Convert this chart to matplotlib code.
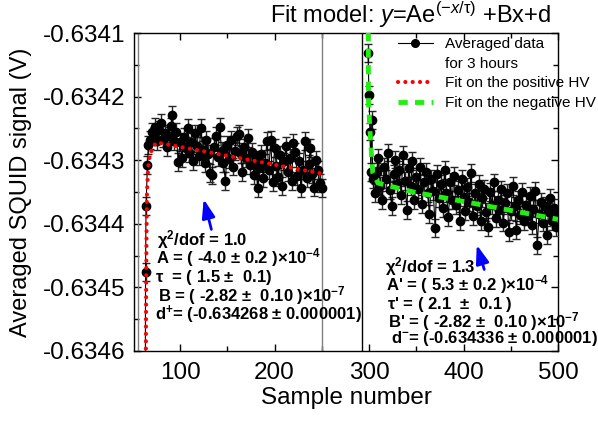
import numpy as np
import matplotlib
matplotlib.use('Agg')
import matplotlib.pyplot as plt
from matplotlib.ticker import MultipleLocator, FuncFormatter
from matplotlib.lines import Line2D

plt.rcParams['font.family'] = ['Liberation Sans', 'DejaVu Sans']
plt.rcParams['mathtext.fontset'] = 'custom'
plt.rcParams['mathtext.rm'] = 'Liberation Sans'
plt.rcParams['mathtext.it'] = 'Liberation Sans:italic'
plt.rcParams['mathtext.bf'] = 'Liberation Sans:bold'
plt.rcParams['mathtext.default'] = 'regular'

# averaged data, positive HV
x_pos = [63, 63.5, 64, 65.5, 66.5] + list(range(68, 251, 2))
y_pos = [-0.634800, -0.634476, -0.634372, -0.634308, -0.634276,
         -0.634268, -0.634255, -0.634262, -0.634248, -0.634270, -0.634252,
         -0.634241, -0.634266, -0.634258, -0.634279, -0.634262, -0.634247,
         -0.634229, -0.634270, -0.634255, -0.634303, -0.634272,
         -0.634296, -0.634263, -0.634281, -0.634250, -0.634289, -0.634272,
         -0.634301, -0.634258, -0.634277, -0.634293, -0.634249, -0.634284,
         -0.634305, -0.634268, -0.634290, -0.634320, -0.634324, -0.634279,
         -0.634262, -0.634295, -0.634248, -0.634286, -0.634305, -0.634333,
         -0.634276, -0.634298, -0.634268, -0.634310, -0.634285, -0.634262,
         -0.634259, -0.634291, -0.634318, -0.634280, -0.634296, -0.634265,
         -0.634308, -0.634287, -0.634323, -0.634299, -0.634344, -0.634312,
         -0.634290, -0.634328, -0.634304, -0.634270, -0.634316, -0.634268,
         -0.634335, -0.634281, -0.634309, -0.634326, -0.634292, -0.634340,
         -0.634302, -0.634278, -0.634318, -0.634296, -0.634333, -0.634273,
         -0.634287, -0.634325, -0.634302, -0.634344, -0.634315, -0.634270,
         -0.634328, -0.634306, -0.634281, -0.634322, -0.634343, -0.634299,
         -0.634316, -0.634336, -0.634344]

# averaged data, negative HV
x_neg = [299, 300, 301, 302, 303, 304] + list(range(306, 501, 2))
y_neg = [-0.634131, -0.634198, -0.634255, -0.634318, -0.634237, -0.634330,
         -0.634352, -0.634318, -0.634296, -0.634340, -0.634363, -0.634310,
         -0.634329, -0.634288, -0.634347, -0.634372, -0.634321, -0.634299,
         -0.634338, -0.634316, -0.634355, -0.634292, -0.634333, -0.634378,
         -0.634312, -0.634340, -0.634301, -0.634362, -0.634326, -0.634345,
         -0.634310, -0.634369, -0.634335, -0.634318, -0.634352, -0.634384,
         -0.634330, -0.634348, -0.634407, -0.634321, -0.634360, -0.634338,
         -0.634375, -0.634315, -0.634352, -0.634390, -0.634334, -0.634362,
         -0.634325, -0.634371, -0.634347, -0.634395, -0.634330, -0.634358,
         -0.634380, -0.634342, -0.634366, -0.634320, -0.634388, -0.634352,
         -0.634372, -0.634338, -0.634396, -0.634360, -0.634345, -0.634382,
         -0.634405, -0.634350, -0.634370, -0.634335, -0.634391, -0.634362,
         -0.634378, -0.634346, -0.634398, -0.634368, -0.634352, -0.634413,
         -0.634380, -0.634341, -0.634372, -0.634410, -0.634362, -0.634386,
         -0.634350, -0.634395, -0.634370, -0.634388, -0.634356, -0.634402,
         -0.634376, -0.634348, -0.634434, -0.634385, -0.634365, -0.634398,
         -0.634372, -0.634418, -0.634382, -0.634360, -0.634395, -0.634375,
         -0.634405, -0.634385]
y_err = 1.4e-5

# fit curves
fit_pos_x = [63.6, 64, 64.5, 65, 66, 67, 69, 72, 75, 250]
fit_pos_y = [-0.63470, -0.63455, -0.63442, -0.634350, -0.634320, -0.634300,
             -0.634288, -0.634278, -0.634272, -0.634321]
fit_neg_x = [299, 299.5, 301, 303, 304, 309.5, 347, 500]
fit_neg_y = [-0.63400, -0.634210, -0.634253, -0.634300, -0.634320,
             -0.634336, -0.634350, -0.634393]

fig = plt.figure(figsize=(5.98, 4.21), dpi=100)
ax = fig.add_axes([0.2241, 0.1663, 0.709, 0.7553])

ax.axvline(55.6, color='#808080', lw=1)
ax.axvline(250, color='#808080', lw=1)
ax.axvline(293, color='black', lw=1)

for xs, ys in [(x_pos, y_pos), (x_neg, y_neg)]:
    ax.errorbar(xs, ys, yerr=y_err, fmt='o-', color='black', ms=6, lw=0.8,
                ecolor='#262626', elinewidth=1, capsize=2.8, capthick=1, zorder=3)

ax.plot(fit_pos_x, fit_pos_y, color='red', lw=3, linestyle=(0, (0.01, 1.75)),
        dash_capstyle='round', zorder=5)
ax.plot(fit_neg_x, fit_neg_y, color='#22ee11', lw=3.5, linestyle=(0, (1.9, 1.5)),
        zorder=5)

ax.set_xlim(51.3, 500)
ax.set_ylim(-0.6346, -0.6341)
ax.xaxis.set_major_locator(MultipleLocator(100))
ax.xaxis.set_minor_locator(MultipleLocator(50))
ax.yaxis.set_major_locator(MultipleLocator(0.0001))
ax.yaxis.set_minor_locator(MultipleLocator(0.00005))
ax.yaxis.set_major_formatter(FuncFormatter(lambda v, p: f"{v:.4f}"))
ax.tick_params(which='both', direction='in', top=True, right=True, labelsize=17.5)
ax.tick_params(which='major', length=5, width=1)
ax.tick_params(which='minor', length=3.5, width=1)
ax.tick_params(axis='x', pad=8)
ax.tick_params(axis='y', pad=6)
for s in ax.spines.values():
    s.set_linewidth(1)

fig.text(21 / 598, 0.544, 'Averaged SQUID signal (V)', rotation=90,
         ha='center', va='center', fontsize=17)
fig.text(0.579, 0.055, 'Sample number', ha='center', va='center', fontsize=17.5)
fig.text(0.4515, 0.945, r'Fit model: $\mathit{y}$=Ae$^{(-\mathit{x}/\tau)}$ +Bx+d',
         ha='left', va='baseline', fontsize=17)

handles = [Line2D([], [], color='black', marker='o', ms=5.5, lw=0.8),
           Line2D([], [], linestyle='none'),
           Line2D([], [], color='red', lw=3, linestyle=(0, (0.01, 1.75)),
                  dash_capstyle='round'),
           Line2D([], [], color='#22ee11', lw=3.5, linestyle=(0, (1.9, 1.5)))]
labels = ['Averaged data', 'for 3 hours', 'Fit on the positive HV',
          'Fit on the negative HV']
fig.legend(handles, labels, loc='upper left', bbox_to_anchor=(0.666, 0.911),
           frameon=False, fontsize=11, handlelength=2.25, handletextpad=0.8,
           labelspacing=0.36, borderpad=0, borderaxespad=0)

ax.annotate('', xy=(124.3, -0.634357), xytext=(133.9, -0.634413),
            arrowprops=dict(arrowstyle='-|>,head_width=0.28,head_length=0.8',
                            color='blue', lw=2, mutation_scale=14))
ax.annotate('', xy=(413.2, -0.634429), xytext=(422.8, -0.634476),
            arrowprops=dict(arrowstyle='-|>,head_width=0.28,head_length=0.8',
                            color='blue', lw=2, mutation_scale=14))

block1 = [(157, 245, r'$\chi^{2}$/dof = 1.0'),
          (156, 263, r'A = ( -4.0 $\pm$ 0.2 )$\times$10$^{\mathbf{-4}}$'),
          (155, 282, r'$\tau$  = ( 1.5 $\pm$  0.1)'),
          (158, 301, r'B = ( -2.82 $\pm$  0.10 )$\times$10$^{\mathbf{-7}}$'),
          (155, 320, r'd$^{\mathbf{+}}$= (-0.634268 $\pm$ 0.000001)')]
block2 = [(385, 272, r'$\chi^{2}$/dof = 1.3'),
          (386, 290, r"A' = ( 5.3 $\pm$ 0.2 )$\times$10$^{\mathbf{-4}}$"),
          (387, 309, r"$\tau$' = ( 2.1  $\pm$  0.1 )"),
          (388, 327, r"B' = ( -2.82 $\pm$  0.10 )$\times$10$^{\mathbf{-7}}$"),
          (391, 343, r'd$^{\mathbf{-}}$= (-0.634336 $\pm$ 0.000001)')]
for px, py, s in block1 + block2:
    fig.text(px / 598, 1 - py / 421, s, fontsize=12, fontweight='bold',
             ha='left', va='baseline')

fig.savefig('out.png', dpi=100)
